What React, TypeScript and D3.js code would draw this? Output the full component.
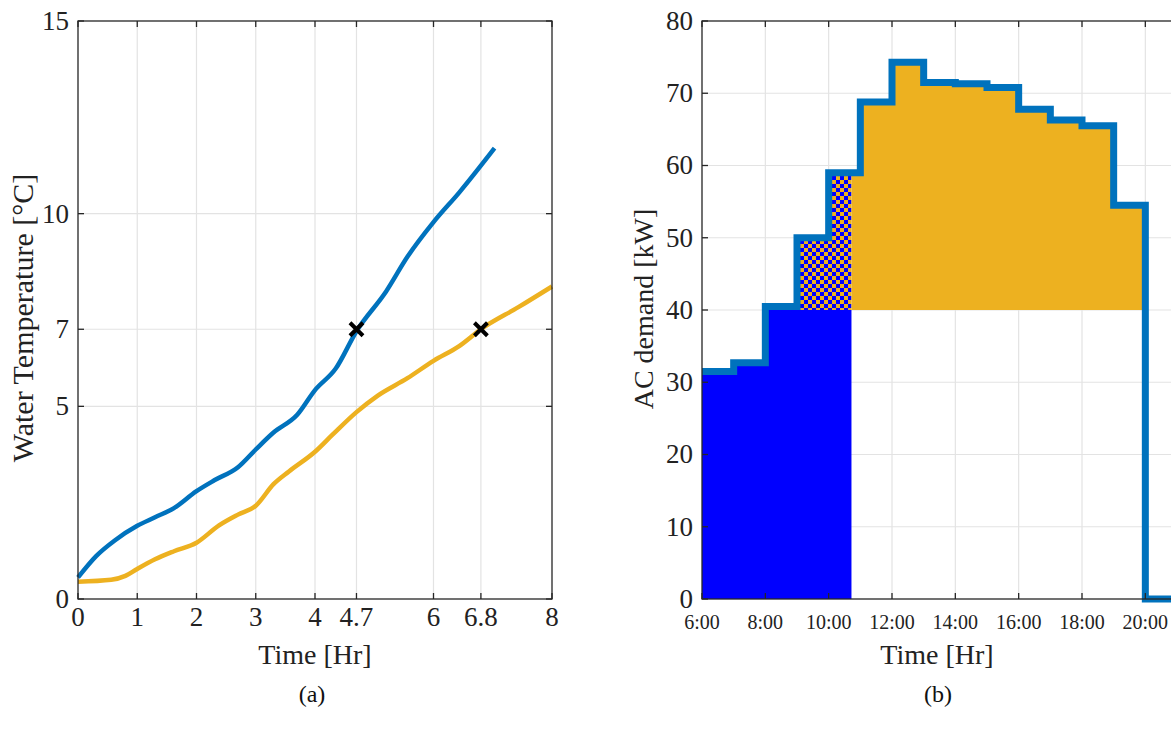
import React, { useRef, useEffect } from "react";
import * as d3 from "d3";

// panel (a): water temperature vs time
const timeBlue = [0, 0.31, 0.62, 1.0, 1.3, 1.62, 2.0, 2.3, 2.7, 3.0, 3.3, 3.7, 4.0, 4.35, 4.7, 5.2, 5.56, 6.0, 6.44, 7.03];
const tempBlue = [0.56, 1.12, 1.52, 1.9, 2.12, 2.36, 2.8, 3.08, 3.42, 3.88, 4.32, 4.78, 5.42, 5.98, 6.95, 7.98, 8.88, 9.78, 10.56, 11.7];
const timeOrange = [0, 0.56, 0.8, 1.0, 1.3, 1.62, 2.0, 2.38, 2.7, 3.0, 3.3, 3.56, 4.0, 4.3, 4.7, 5.06, 5.56, 6.0, 6.44, 6.8, 7.44, 8.0];
const tempOrange = [0.45, 0.5, 0.6, 0.78, 1.03, 1.24, 1.46, 1.91, 2.19, 2.42, 2.98, 3.31, 3.82, 4.27, 4.85, 5.28, 5.73, 6.18, 6.57, 7.0, 7.58, 8.11];
const crossTime = [4.7, 6.8];
const crossTemp = [7, 7];
const xTicksA = [0, 1, 2, 3, 4, 4.7, 6, 6.8, 8];
const yTicksA = [0, 5, 7, 10, 15];

// panel (b): AC demand, hourly steps from 6:00
const hours = [6, 7, 8, 9, 10, 11, 12, 13, 14, 15, 16, 17, 18, 19, 20, 21];
const demand = [31.5, 32.7, 40.5, 50, 59, 68.8, 74.3, 71.5, 71.3, 70.8, 67.8, 66.3, 65.5, 54.5, 0, 0];
const capLevel = 40;
const blueEnd = 10.72;
const checkerStart = 9;
const orangeEnd = 20;
const xTicksB = [6, 8, 10, 12, 14, 16, 18, 20];
const yTicksB = [0, 10, 20, 30, 40, 50, 60, 70, 80];

const FONT = "'Liberation Serif', 'Times New Roman', serif";
const BLUE = "#0072BD";
const ORANGE = "#EDB120";

function demandAt(h: number) {
  const i = d3.bisectRight(hours, h) - 1;
  return demand[Math.max(0, i)];
}

// step segment points from a to b
function stepPts(a: number, b: number) {
  const pts: number[] = [a];
  hours.forEach((h) => { if (h > a && h < b) pts.push(h); });
  pts.push(b);
  return pts;
}

function drawGrid(g: any, x: any, y: any, xt: number[], yt: number[]) {
  const [x0, x1] = x.range();
  const [y0, y1] = y.range();
  g.selectAll(".gx").data(xt.filter((d) => x(d) > x0 + 1 && x(d) < x1 - 1)).enter().append("line")
    .attr("x1", (d: number) => x(d)).attr("x2", (d: number) => x(d)).attr("y1", y0).attr("y2", y1)
    .attr("stroke", "#e3e3e3").attr("stroke-width", 1.2);
  g.selectAll(".gy").data(yt.filter((d) => y(d) < y0 - 1 && y(d) > y1 + 1)).enter().append("line")
    .attr("x1", x0).attr("x2", x1).attr("y1", (d: number) => y(d)).attr("y2", (d: number) => y(d))
    .attr("stroke", "#e3e3e3").attr("stroke-width", 1.2);
}

function drawAxes(g: any, x: any, y: any, xt: number[], yt: number[], xFmt: (d: number) => string, xFont: number, xOff: number) {
  const [x0, x1] = x.range();
  const [y0, y1] = y.range();
  const tk = 6;
  const axc = "#262626";
  g.append("rect").attr("x", x0).attr("y", y1).attr("width", x1 - x0).attr("height", y0 - y1)
    .attr("fill", "none").attr("stroke", axc).attr("stroke-width", 1.3);
  xt.forEach((d) => {
    g.append("line").attr("x1", x(d)).attr("x2", x(d)).attr("y1", y0).attr("y2", y0 - tk).attr("stroke", axc).attr("stroke-width", 1.3);
    g.append("line").attr("x1", x(d)).attr("x2", x(d)).attr("y1", y1).attr("y2", y1 + tk).attr("stroke", axc).attr("stroke-width", 1.3);
    g.append("text").attr("x", x(d)).attr("y", y0 + xOff).attr("text-anchor", "middle")
      .attr("font-family", FONT).attr("font-size", xFont).attr("fill", "#222").text(xFmt(d));
  });
  yt.forEach((d) => {
    g.append("line").attr("x1", x0).attr("x2", x0 + tk).attr("y1", y(d)).attr("y2", y(d)).attr("stroke", axc).attr("stroke-width", 1.3);
    g.append("line").attr("x1", x1).attr("x2", x1 - tk).attr("y1", y(d)).attr("y2", y(d)).attr("stroke", axc).attr("stroke-width", 1.3);
    g.append("text").attr("x", x0 - 9).attr("y", y(d)).attr("dy", "0.33em").attr("text-anchor", "end")
      .attr("font-family", FONT).attr("font-size", 27).attr("fill", "#222").text(String(d));
  });
}

export default function App() {
  const svgRef = useRef<SVGSVGElement>(null);

  useEffect(() => {
    const svg = d3.select(svgRef.current);
    svg.selectAll("*").remove();

    const defs = svg.append("defs");
    const pat = defs.append("pattern").attr("id", "checker").attr("patternUnits", "userSpaceOnUse")
      .attr("width", 8).attr("height", 8);
    pat.append("rect").attr("width", 8).attr("height", 8).attr("fill", ORANGE);
    pat.append("rect").attr("width", 4).attr("height", 4).attr("fill", "#0000FF");
    pat.append("rect").attr("x", 4).attr("y", 4).attr("width", 4).attr("height", 4).attr("fill", "#0000FF");

    // ---- panel (a)
    const xA = d3.scaleLinear().domain([0, 8]).range([78, 552]);
    const yA = d3.scaleLinear().domain([0, 15]).range([599, 21]);
    const gA = svg.append("g");
    drawGrid(gA, xA, yA, xTicksA, yTicksA);

    const lineA = d3.line<number>().curve(d3.curveMonotoneX);
    gA.append("path")
      .attr("d", lineA(timeOrange.map((t, i) => [xA(t), yA(tempOrange[i])]) as any))
      .attr("fill", "none").attr("stroke", ORANGE).attr("stroke-width", 4.5);
    gA.append("path")
      .attr("d", lineA(timeBlue.map((t, i) => [xA(t), yA(tempBlue[i])]) as any))
      .attr("fill", "none").attr("stroke", BLUE).attr("stroke-width", 4.5);

    crossTime.forEach((t, i) => {
      const cx = xA(t), cy = yA(crossTemp[i]), s = 6.5;
      gA.append("path").attr("d", `M${cx - s},${cy - s}L${cx + s},${cy + s}M${cx - s},${cy + s}L${cx + s},${cy - s}`)
        .attr("stroke", "#000").attr("stroke-width", 4);
    });
    drawAxes(gA, xA, yA, xTicksA, yTicksA, String, 27, 27);

    gA.append("text").attr("transform", "translate(33,318) rotate(-90)").attr("text-anchor", "middle")
      .attr("font-family", FONT).attr("font-size", 30).attr("fill", "#222").text("Water Temperature [°C]");
    gA.append("text").attr("x", 315).attr("y", 664).attr("text-anchor", "middle")
      .attr("font-family", FONT).attr("font-size", 28).attr("fill", "#222").text("Time [Hr]");

    // ---- panel (b)
    const xB = d3.scaleLinear().domain([6, 21]).range([702, 1177]);
    const yB = d3.scaleLinear().domain([0, 80]).range([599, 21]);
    const gB = svg.append("g");
    drawGrid(gB, xB, yB, xTicksB, yTicksB);

    const area = d3.area<number>().curve(d3.curveStepAfter);
    const fillSeg = (a: number, b: number, lo: (v: number) => number, hi: (v: number) => number, fill: string) => {
      const pts = stepPts(a, b);
      gB.append("path")
        .datum(pts)
        .attr("d", area.x((h) => xB(h)).y0((h) => yB(lo(demandAt(Math.min(h, b - 1e-6))))).y1((h) => yB(hi(demandAt(Math.min(h, b - 1e-6))))) as any)
        .attr("fill", fill);
    };
    fillSeg(hours[0], blueEnd, () => 0, (v) => Math.min(v, capLevel), "#0000FF");
    fillSeg(checkerStart, blueEnd, () => capLevel, (v) => v, "url(#checker)");
    fillSeg(blueEnd, orangeEnd, () => capLevel, (v) => v, ORANGE);

    const stepLine = d3.line<number>().curve(d3.curveStepAfter)
      .x((h) => xB(h)).y((h, i) => yB(demand[i]));
    gB.append("path").attr("d", stepLine(hours) as any)
      .attr("fill", "none").attr("stroke", BLUE).attr("stroke-width", 7).attr("stroke-linejoin", "miter");

    drawAxes(gB, xB, yB, xTicksB, yTicksB, (d) => `${d}:00`, 20, 30);

    gB.append("text").attr("transform", "translate(653,309) rotate(-90)").attr("text-anchor", "middle")
      .attr("font-family", FONT).attr("font-size", 28).attr("fill", "#222").text("AC demand [kW]");
    gB.append("text").attr("x", 937).attr("y", 664).attr("text-anchor", "middle")
      .attr("font-family", FONT).attr("font-size", 28).attr("fill", "#222").text("Time [Hr]");

    svg.append("text").attr("x", 312).attr("y", 702).attr("text-anchor", "middle")
      .attr("font-family", FONT).attr("font-size", 24).attr("fill", "#111").text("(a)");
    svg.append("text").attr("x", 938).attr("y", 702).attr("text-anchor", "middle")
      .attr("font-family", FONT).attr("font-size", 24).attr("fill", "#111").text("(b)");
  }, []);

  return (
    <svg ref={svgRef} width={1171} height={736}
      style={{ position: "absolute", left: 0, top: 0, background: "#fff" }} />
  );
}
